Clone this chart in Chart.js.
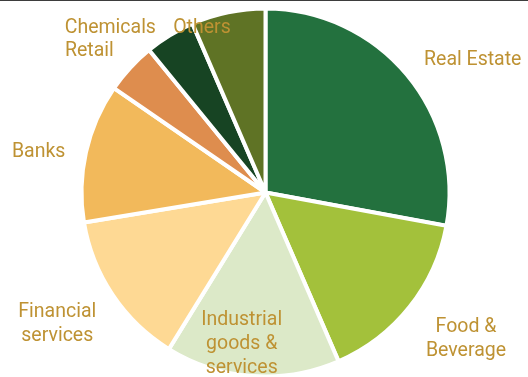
<!DOCTYPE html>
<html>
<head>
<meta charset="utf-8">
<script src="https://cdn.jsdelivr.net/npm/chart.js@4/dist/chart.umd.min.js"></script>
<style>
  html, body { margin: 0; padding: 0; background: #ffffff; }
  #wrap { position: relative; width: 528px; height: 377px; }
  #topline { position: absolute; left: 0; top: 0; width: 528px; height: 1px; background: #3d3d3d; z-index: 2; }
  canvas { position: absolute; left: 0; top: 0; }
</style>
</head>
<body>
<div id="wrap">
  <div id="topline"></div>
  <canvas id="c" width="528" height="377"></canvas>
</div>
<script>
const categories = ["Real Estate", "Food & Beverage", "Industrial goods & services", "Financial services", "Banks", "Retail", "Chemicals", "Others"];
const labelLines = [["Real Estate"], ["Food &", "Beverage"], ["Industrial", "goods &", "services"], ["Financial", "services"], ["Banks"], ["Retail"], ["Chemicals"], ["Others"]];
const shares = [27.9, 15.6, 15.3, 13.6, 12.2, 4.5, 4.4, 6.5];
const sliceColors = ["#23713e", "#a3c13b", "#dce9c8", "#fed994", "#f2b95b", "#de8d4e", "#174423", "#5f7325"];

// small per-label nudges (px) applied after automatic outside placement
const labelNudges = [[1, 3], [0, 1], [-9, 0], [1, 1], [0, 4], [-1, 3], [-3, 0], [-22, 0]];

const outsideLabels = {
  id: 'outsideLabels',
  afterDatasetsDraw(chart, args, opts) {
    const ctx = chart.ctx;
    const meta = chart.getDatasetMeta(0);
    const H = chart.height;
    ctx.save();
    ctx.font = opts.font;
    ctx.fillStyle = opts.color;
    ctx.textBaseline = 'middle';
    ctx.textAlign = 'center';
    meta.data.forEach((arc, i) => {
      const p = arc.getProps(['x', 'y', 'startAngle', 'endAngle', 'outerRadius'], true);
      const mid = (p.startAngle + p.endAngle) / 2;
      const vx = Math.cos(mid), vy = Math.sin(mid);
      const d = p.outerRadius + opts.pad;
      const ax = p.x + vx * d, ay = p.y + vy * d;
      const lines = labelLines[i];
      const bw = Math.max(...lines.map(l => ctx.measureText(l).width));
      const bh = lines.length * opts.lineHeight;
      let left;
      if (Math.abs(vx) < 0.25) left = ax - bw / 2;
      else if (vx > 0) left = ax;
      else left = ax - bw;
      let cy = ay + vy * bh / 2;
      let top = cy - bh / 2;
      if (top < opts.clampTop) top = opts.clampTop;
      if (top + bh > H - opts.clampBottom) top = H - opts.clampBottom - bh;
      const n = labelNudges[i] || [0, 0];
      left += n[0];
      top += n[1] + opts.baselineShift;
      lines.forEach((line, k) => {
        ctx.fillText(line, left + bw / 2, top + opts.lineHeight * (k + 0.5));
      });
    });
    ctx.restore();
  }
};

new Chart(document.getElementById('c'), {
  type: 'pie',
  data: {
    labels: categories,
    datasets: [{
      data: shares,
      backgroundColor: sliceColors,
      borderColor: '#ffffff',
      borderWidth: 4,
      radius: 184
    }]
  },
  options: {
    responsive: false,
    animation: false,
    layout: { padding: { left: 3, right: 0, top: 8, bottom: 0 } },
    plugins: {
      legend: { display: false },
      tooltip: { enabled: false },
      outsideLabels: {
        font: '19.5px Roboto',
        color: '#be9233',
        pad: 21,
        lineHeight: 24,
        clampTop: 13,
        clampBottom: 0,
        baselineShift: 3
      }
    }
  },
  plugins: [outsideLabels]
});
</script>
</body>
</html>
